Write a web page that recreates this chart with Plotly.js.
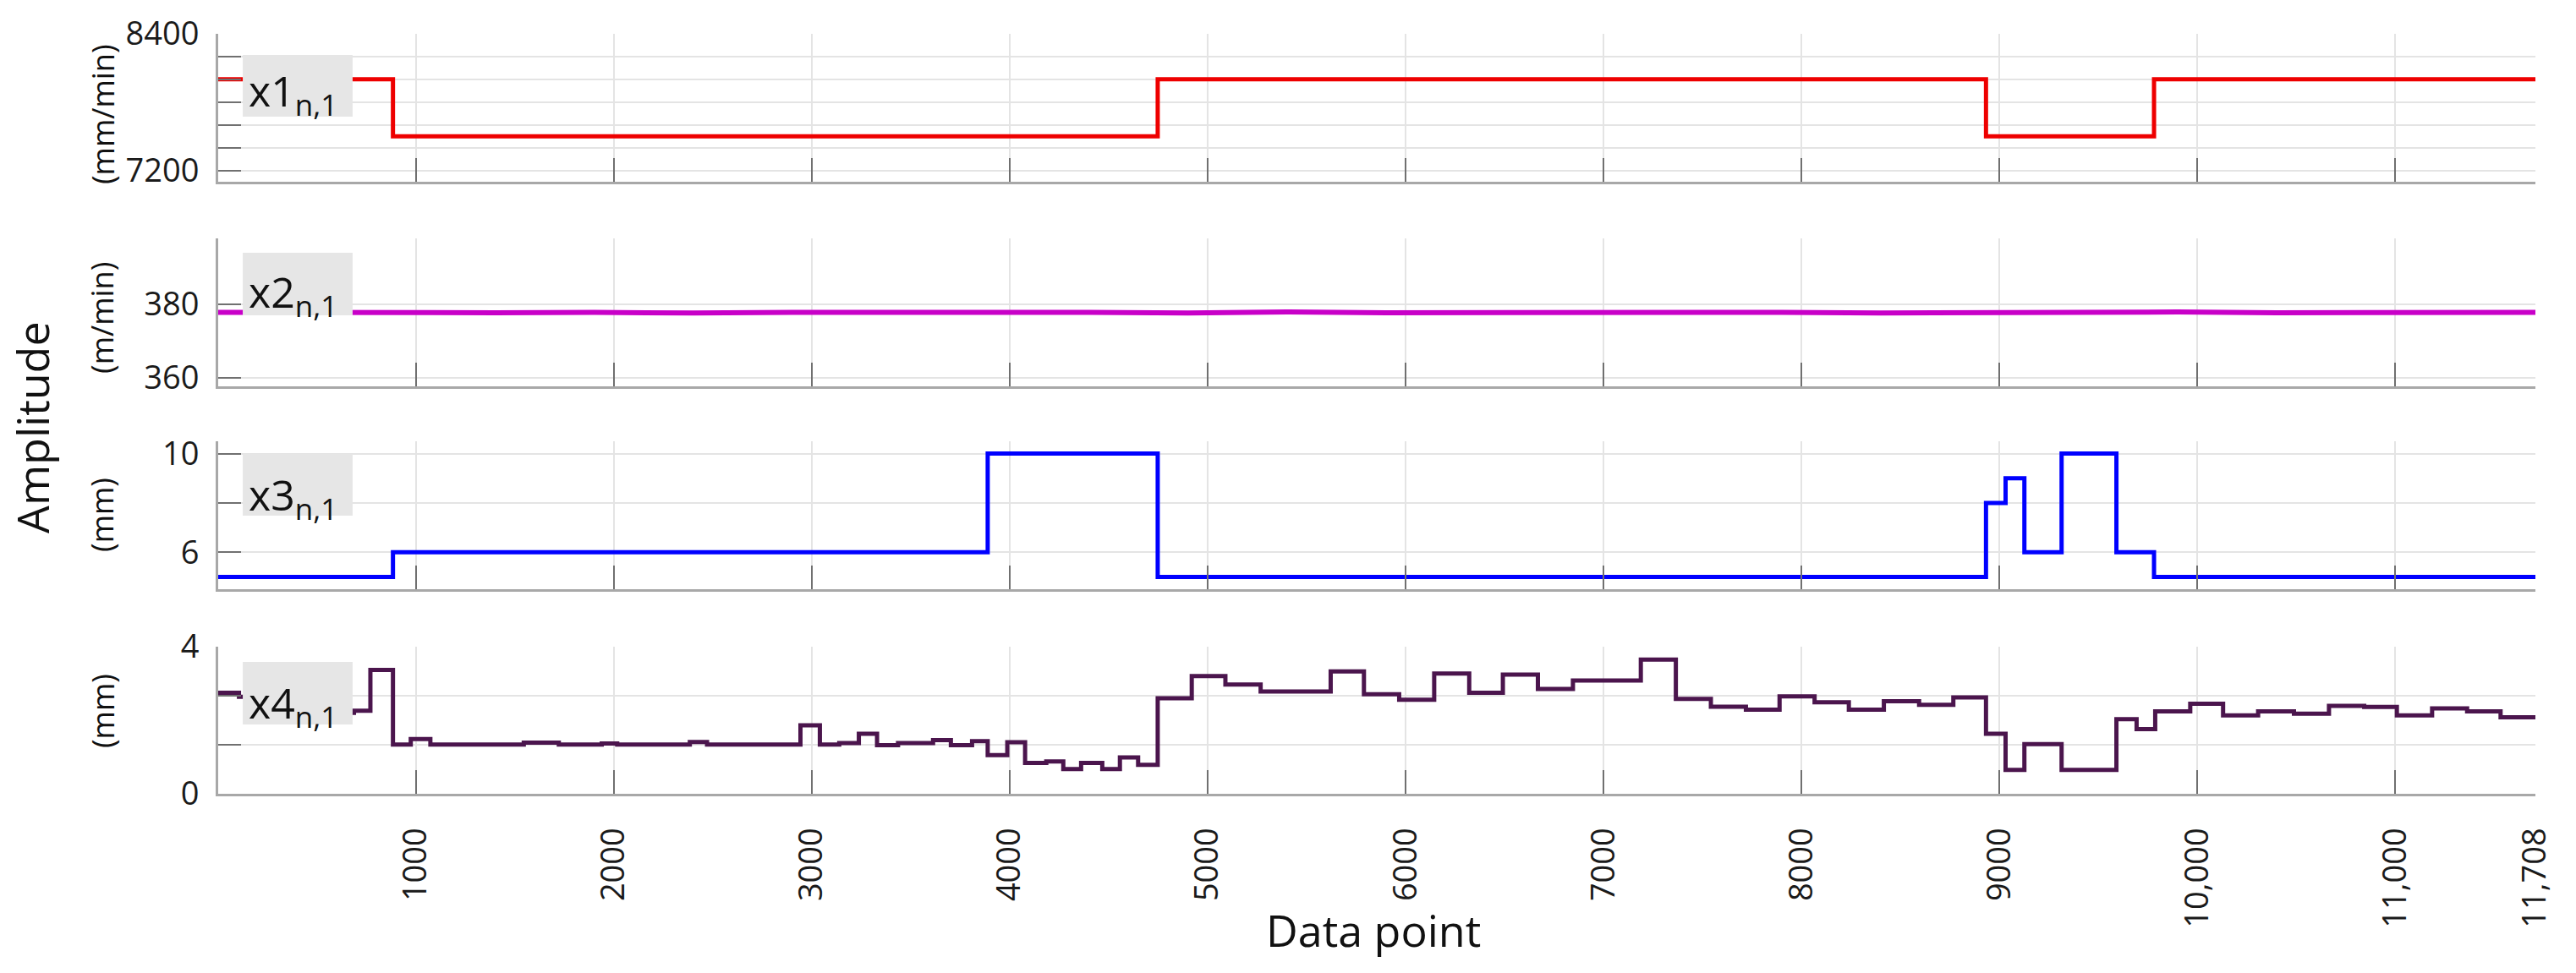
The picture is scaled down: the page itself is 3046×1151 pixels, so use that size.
<!DOCTYPE html>
<html>
<head>
<meta charset="utf-8">
<script src="https://cdn.plot.ly/plotly-3.0.1.min.js"></script>
<style>html,body{margin:0;padding:0;background:#fff;}#chart{width:3046px;height:1151px;}</style>
</head>
<body>
<div id="chart"></div>
<script>
// ---------- data ----------
const xEnd = 11708;
const xTickVals = [1000, 2000, 3000, 4000, 5000, 6000, 7000, 8000, 9000, 10000, 11000, 11708];
const xTickText = ['1000', '2000', '3000', '4000', '5000', '6000', '7000', '8000', '9000', '10,000', '11,000', '11,708'];

// x1 (mm/min) - step series
const x1X = [0, 883, 4747, 8932, 9781, 11708];
const x1Y = [8000, 7500, 8000, 7500, 8000, 8000];

// x2 (m/min) - nearly constant, slightly noisy
const x2X = [0, 450, 900, 1400, 1900, 2400, 2900, 3400, 3900, 4400, 4900, 5400, 5900, 6400, 6900, 7400, 7900, 8400, 8900, 9400, 9900, 10400, 10900, 11400, 11708];
const x2Y = [377.8, 377.7, 377.9, 377.7, 377.8, 377.6, 377.8, 377.9, 377.7, 377.8, 377.6, 377.9, 377.7, 377.8, 377.7, 377.9, 377.8, 377.6, 377.8, 377.7, 377.9, 377.7, 377.8, 377.7, 377.8];

// x3 (mm) - step series
const x3X = [0, 883, 3888, 4747, 8932, 9031, 9126, 9314, 9591, 9781, 11708];
const x3Y = [5, 6, 10, 5, 8, 9, 6, 10, 6, 5, 5];

// x4 (mm) - step series
const x4X = [0, 105, 520, 686, 769, 883, 973, 1072, 1544, 1721, 1938, 2016, 2383, 2470, 2942, 3040, 3138, 3237, 3329, 3435, 3612, 3702, 3809, 3888, 3987, 4077, 4184, 4270, 4360, 4467, 4556, 4648, 4747, 4919, 5089, 5267, 5621, 5789, 5967, 6144, 6321, 6491, 6668, 6845, 7188, 7365, 7542, 7719, 7889, 8066, 8239, 8416, 8594, 8767, 8932, 9031, 9126, 9314, 9591, 9693, 9787, 9964, 10130, 10307, 10488, 10665, 10843, 11008, 11186, 11363, 11532, 11708];
const x4Y = [2.75, 2.64, 2.2, 2.26, 3.37, 1.34, 1.49, 1.34, 1.39, 1.34, 1.37, 1.34, 1.41, 1.34, 1.86, 1.34, 1.38, 1.63, 1.32, 1.38, 1.46, 1.32, 1.43, 1.05, 1.40, 0.84, 0.88, 0.67, 0.84, 0.67, 0.99, 0.79, 2.60, 3.20, 2.97, 2.78, 3.33, 2.71, 2.56, 3.27, 2.75, 3.24, 2.85, 3.08, 3.65, 2.58, 2.37, 2.29, 2.65, 2.49, 2.29, 2.52, 2.42, 2.62, 1.63, 0.65, 1.35, 0.65, 2.03, 1.76, 2.24, 2.45, 2.13, 2.24, 2.18, 2.39, 2.36, 2.13, 2.32, 2.24, 2.08, 2.08];

// y-axis labelled ticks and minor (unlabelled) tick spacing
const y1Ticks = [7200, 8400];
const y1Minor = {tick0: 7200, dtick: 200};
const y2Ticks = [360, 380];
const y2Minor = {tick0: 360, dtick: 20};
const y3Ticks = [6, 10];
const y3Minor = {tick0: 6, dtick: 2};
const y4Ticks = [0, 4];
const y4Minor = {tick0: 0, dtick: 4 / 3};

const panelLabels = ['x1', 'x2', 'x3', 'x4'];
const unitLabels = ['(mm/min)', '(m/min)', '(mm)', '(mm)'];

// ---------- styling ----------
const FONT = '"Open Sans", "Noto Sans", sans-serif';
const gridColor = '#e4e4e4';
const lineColor = '#a8a8a8';
const tickColor = '#707070';

function xAxis(anchor, showLabels, domainMatch) {
  const ax = {
    anchor: anchor,
    range: [0, xEnd],
    tickmode: 'array',
    tickvals: xTickVals,
    ticktext: xTickText,
    showticklabels: showLabels,
    tickangle: -90,
    ticks: 'inside',
    ticklen: 28,
    tickwidth: 2,
    tickcolor: tickColor,
    ticklabelstandoff: 22,
    showgrid: true,
    gridcolor: gridColor,
    gridwidth: 2,
    zeroline: false,
    showline: true,
    linecolor: lineColor,
    linewidth: 3,
    tickfont: {family: FONT, size: 38, color: '#1a1a1a'},
    fixedrange: true
  };
  if (domainMatch) ax.matches = 'x';
  return ax;
}

function yAxis(anchor, domain, range, vals, minor) {
  return {
    anchor: anchor,
    domain: domain,
    range: range,
    tickmode: 'array',
    tickvals: vals,
    ticktext: vals.map(v => String(v)),
    ticks: 'inside',
    ticklen: 27,
    tickwidth: 2,
    tickcolor: tickColor,
    ticklabelstandoff: 12,
    showgrid: true,
    gridcolor: gridColor,
    gridwidth: 2,
    minor: {
      tick0: minor.tick0, dtick: minor.dtick,
      ticks: 'inside', ticklen: 27, tickwidth: 2, tickcolor: tickColor,
      showgrid: true, gridcolor: gridColor, gridwidth: 2
    },
    zeroline: false,
    showline: true,
    linecolor: lineColor,
    linewidth: 3,
    tickfont: {family: FONT, size: 38, color: '#1a1a1a'},
    fixedrange: true
  };
}

const traces = [
  {x: x1X, y: x1Y, xaxis: 'x', yaxis: 'y', type: 'scatter', mode: 'lines',
   line: {shape: 'hv', color: '#ee0000', width: 5}},
  {x: x2X, y: x2Y, xaxis: 'x2', yaxis: 'y2', type: 'scatter', mode: 'lines',
   line: {color: '#c800c8', width: 6}},
  {x: x3X, y: x3Y, xaxis: 'x3', yaxis: 'y3', type: 'scatter', mode: 'lines',
   line: {shape: 'hv', color: '#0000ff', width: 5}},
  {x: x4X, y: x4Y, xaxis: 'x4', yaxis: 'y4', type: 'scatter', mode: 'lines',
   line: {shape: 'hv', color: '#4b154d', width: 5}}
];

// label box geometry (domain fractions)
const boxes = [
  {yref: 'y domain', y0: 0.44, y1: 0.857, ty: 0.60},
  {yref: 'y2 domain', y0: 0.48, y1: 0.903, ty: 0.625},
  {yref: 'y3 domain', y0: 0.497, y1: 0.914, ty: 0.625},
  {yref: 'y4 domain', y0: 0.471, y1: 0.897, ty: 0.605}
];

const shapes = boxes.map(b => ({
  type: 'rect', xref: 'paper', yref: b.yref,
  x0: 0.0106, x1: 0.058, y0: b.y0, y1: b.y1,
  fillcolor: '#e6e6e6', line: {width: 0}, layer: 'above'
}));

const annotations = [];
boxes.forEach((b, i) => {
  annotations.push({
    xref: 'paper', yref: b.yref, x: 0.0125, y: b.ty,
    xanchor: 'left', yanchor: 'middle', showarrow: false,
    text: panelLabels[i] + '<sub>n,1</sub>',
    font: {family: FONT, size: 50, color: '#111'}
  });
});
const unitY = [0.8943, 0.6263, 0.3671, 0.109];
unitLabels.forEach((t, i) => {
  annotations.push({
    xref: 'paper', yref: 'paper', x: -0.05, y: unitY[i],
    xanchor: 'center', yanchor: 'middle', showarrow: false, textangle: -90,
    text: t, font: {family: FONT, size: 36, color: '#111'}
  });
});
annotations.push({
  xref: 'paper', yref: 'paper', x: -0.0803, y: 0.4828,
  xanchor: 'center', yanchor: 'middle', showarrow: false, textangle: -90,
  text: 'Amplitude', font: {family: FONT, size: 52, color: '#111'}
});
annotations.push({
  xref: 'paper', yref: 'paper', x: 0.4985, y: -0.179,
  xanchor: 'center', yanchor: 'middle', showarrow: false,
  text: 'Data point', font: {family: FONT, size: 52, color: '#111'}
});

const layout = {
  width: 3046, height: 1151,
  margin: {l: 258, r: 48, t: 40, b: 212},
  paper_bgcolor: '#ffffff', plot_bgcolor: '#ffffff',
  showlegend: false,
  font: {family: FONT},
  xaxis: xAxis('y', false, false),
  xaxis2: xAxis('y2', false, true),
  xaxis3: xAxis('y3', false, true),
  xaxis4: xAxis('y4', true, true),
  yaxis: yAxis('x', [0.8053, 1.0], [7100, 8400], y1Ticks, y1Minor),
  yaxis2: yAxis('x2', [0.5362, 0.7308], [357.7, 397.9], y2Ticks, y2Minor),
  yaxis3: yAxis('x3', [0.2692, 0.4638], [4.5, 10.5], y3Ticks, y3Minor),
  yaxis4: yAxis('x4', [0, 0.1935], [0, 4], y4Ticks, y4Minor),
  shapes: shapes,
  annotations: annotations
};

Plotly.newPlot('chart', traces, layout, {displayModeBar: false, staticPlot: true});
</script>
</body>
</html>
